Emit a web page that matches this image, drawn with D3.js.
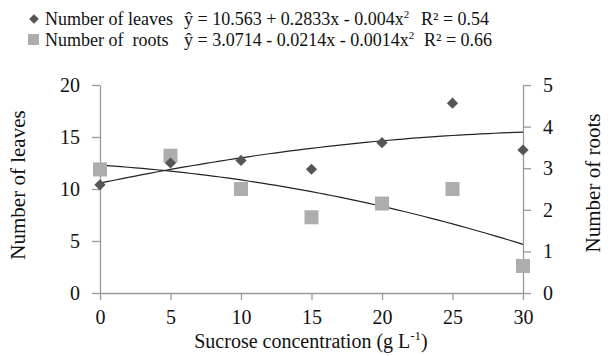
<!DOCTYPE html>
<html><head><meta charset="utf-8">
<script src="https://cdn.jsdelivr.net/npm/d3@7"></script>
<style>body{margin:0;background:#fff}svg{display:block}</style>
</head><body>
<svg id="c" width="613" height="356" font-family="Liberation Serif"></svg>
<script>
const sucrose = [0, 5, 10, 15, 20, 25, 30];
const leaves = [10.4, 12.5, 12.75, 11.9, 14.45, 18.25, 13.75];
const roots = [2.97, 3.3, 2.5, 1.82, 2.15, 2.5, 0.65];
const leavesCoef = [10.563, 0.2833, -0.004];
const rootsCoef = [3.0714, -0.0214, -0.0014];
const xTicks = [0, 5, 10, 15, 20, 25, 30];
const yLeftTicks = [0, 5, 10, 15, 20];
const yRightTicks = [0, 1, 2, 3, 4, 5];

const FONT = "Liberation Serif";
const svg = d3.select("#c");
const x = d3.scaleLinear().domain([0, 30]).range([100, 523]);
const yL = d3.scaleLinear().domain([0, 20]).range([293, 85]);
const yR = d3.scaleLinear().domain([0, 5]).range([293, 85]);
const axisColor = "#999";

function styleAxis(g){
  g.attr("font-family", FONT).attr("font-size", 20);
  g.select(".domain").attr("stroke", axisColor).attr("stroke-width", 1.3);
  g.selectAll(".tick line").attr("stroke", axisColor).attr("stroke-width", 1.3);
  g.selectAll(".tick text").attr("font-family", FONT).style("font-family", FONT).attr("font-size", 20).attr("fill", "#111");
}
svg.append("g").attr("transform","translate(0,293)")
  .call(d3.axisBottom(x).tickValues(xTicks).tickFormat(d3.format("d")).tickSize(7).tickPadding(10).tickSizeOuter(0))
  .call(styleAxis);
svg.append("g").attr("transform","translate(100,0)")
  .call(d3.axisLeft(yL).tickValues(yLeftTicks).tickFormat(d3.format("d")).tickSize(8).tickPadding(12).tickSizeOuter(0))
  .call(styleAxis);
svg.append("g").attr("transform","translate(523,0)")
  .call(d3.axisRight(yR).tickValues(yRightTicks).tickFormat(d3.format("d")).tickSize(8).tickPadding(12).tickSizeOuter(0))
  .call(styleAxis);

// trend lines (fitted equations shown in the legend)
function poly(c, v){ return c[0] + c[1]*v + c[2]*v*v; }
const xs = d3.range(0, 30.01, 0.5);
svg.append("path").datum(xs)
  .attr("d", d3.line().x(d=>x(d)).y(d=>yL(poly(leavesCoef,d))))
  .attr("fill","none").attr("stroke","#222").attr("stroke-width",1.2);
svg.append("path").datum(xs)
  .attr("d", d3.line().x(d=>x(d)).y(d=>yR(poly(rootsCoef,d))))
  .attr("fill","none").attr("stroke","#222").attr("stroke-width",1.2);

// markers
svg.append("g").selectAll("rect").data(sucrose).join("rect")
  .attr("x", (d,i)=>x(d)-7).attr("y",(d,i)=>yR(roots[i])-7)
  .attr("width",14).attr("height",14).attr("fill","#adadad");
const diamond = d3.symbol().type(d3.symbolDiamond2).size(80);
svg.append("g").selectAll("path").data(sucrose).join("path")
  .attr("d", diamond).attr("transform",(d,i)=>`translate(${x(d)},${yL(leaves[i])})`)
  .attr("fill","#555");

function txt(){ return svg.append("text").attr("font-family", FONT).style("font-family", FONT).attr("fill","#111"); }
// axis titles
txt().attr("transform","translate(25,185) rotate(-90)")
  .attr("text-anchor","middle").attr("font-size",21).text("Number of leaves");
txt().attr("transform","translate(600,183) rotate(-90)")
  .attr("text-anchor","middle").attr("font-size",21).text("Number of roots");
const xt = txt().attr("x",311).attr("y",348).attr("text-anchor","middle").attr("font-size",20);
xt.append("tspan").text("Sucrose concentration (g L");
xt.append("tspan").attr("dy",-8).attr("font-size",13).text("-1");
xt.append("tspan").attr("dy",8).text(")");

// legend
svg.append("path").attr("d", d3.symbol().type(d3.symbolDiamond2).size(60))
  .attr("transform","translate(34,19)").attr("fill","#555");
svg.append("rect").attr("x",28).attr("y",34).attr("width",11).attr("height",11).attr("fill","#adadad");
const lf = 18;
txt().attr("x",45).attr("y",25).attr("font-size",lf).text("Number of leaves");
txt().attr("x",45).attr("y",46).attr("font-size",lf).text("Number of\u00a0 roots");
function eq(y, xpos, parts){
  const t = txt().attr("x",xpos).attr("y",y).attr("font-size",lf);
  parts.forEach(p=>{
    const s = t.append("tspan").text(p.t);
    if(p.sup){ s.attr("dy",-7).attr("font-size",11); }
  });
}
eq(25, 184, [{t:"ŷ = 10.563 + 0.2833x - 0.004x"},{t:"2",sup:true}]);
eq(25, 421, [{t:"R² = 0.54"}]);
eq(46, 184, [{t:"ŷ = 3.0714 - 0.0214x - 0.0014x"},{t:"2",sup:true}]);
eq(46, 424, [{t:"R² = 0.66"}]);
</script>
</body></html>
